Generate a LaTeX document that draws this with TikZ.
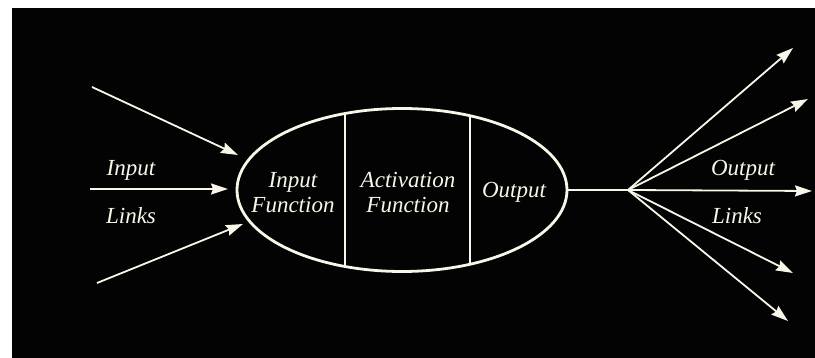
\documentclass[tikz,border=0pt]{standalone}
\usepackage{fontspec}
\setmainfont{Liberation Serif}
\usetikzlibrary{arrows.meta,positioning,shapes.geometric}
\definecolor{chalk}{RGB}{248,246,232}
\definecolor{board}{RGB}{3,3,3}
\tikzset{
  linkarr/.style={-{Stealth[length=17pt, width=11pt, inset=2pt]}, chalk, line width=1.8pt},
  unitell/.style={ellipse, draw=chalk, line width=2.8pt, minimum width=330pt,
                  minimum height=163pt, inner sep=0pt},
  lbl/.style={text=chalk, font=\fontsize{23}{25}\selectfont\itshape, align=center, inner sep=0pt},
  divline/.style={chalk, line width=1.5pt},
}

\begin{document}
\begin{tikzpicture}[x=1pt, y=-1pt]
  \useasboundingbox (0,0) rectangle (815,358);
  \fill[white] (0,0) rectangle (815,358);
  \fill[board] (12,8) rectangle (815,358);
  % neuron body
  \node[unitell] (unit) at (402,190) {};
  \begin{scope}
    \clip (402,190) ellipse (165pt and 81.5pt);
    \draw[divline] (345,100) -- (345,280);
    \draw[divline] (470,100) -- (470,280);
  \end{scope}
  \node[lbl] (infun) at (293,193) {Input\\Function};
  \node[lbl] (actfun) at (408,193) {Activation\\Function};
  \node[lbl] (outfun) at (514,192) {Output};
  % input links
  \coordinate (in1) at (92,87);
  \coordinate (in2) at (90,189);
  \coordinate (in3) at (97,283);
  \coordinate (tip1) at (238,155);
  \coordinate (tip2) at (228,189);
  \coordinate (tip3) at (243,224);
  \draw[linkarr] (in1) -- (tip1);
  \draw[linkarr] (in2) -- (tip2);
  \draw[linkarr] (in3) -- (tip3);
  \node[lbl] (inlab) at (131,170) {Input};
  \node[lbl] (inlinks) at (131,216) {Links};
  % output links
  \coordinate (fan) at (628,190);
  \coordinate (out1) at (793,48);
  \coordinate (out2) at (808,99);
  \coordinate (out3) at (812,191);
  \coordinate (out4) at (793,273);
  \coordinate (out5) at (788,321);
  \draw[chalk, line width=2.6pt] (unit.east) -- (fan);
  \foreach \o in {out1,out2,out3,out4,out5}
    \draw[linkarr] (fan) -- (\o);
  \node[lbl] (outlab) at (743,170) {Output};
  \node[lbl] (outlinks) at (737,216) {Links};
\end{tikzpicture}
\end{document}
